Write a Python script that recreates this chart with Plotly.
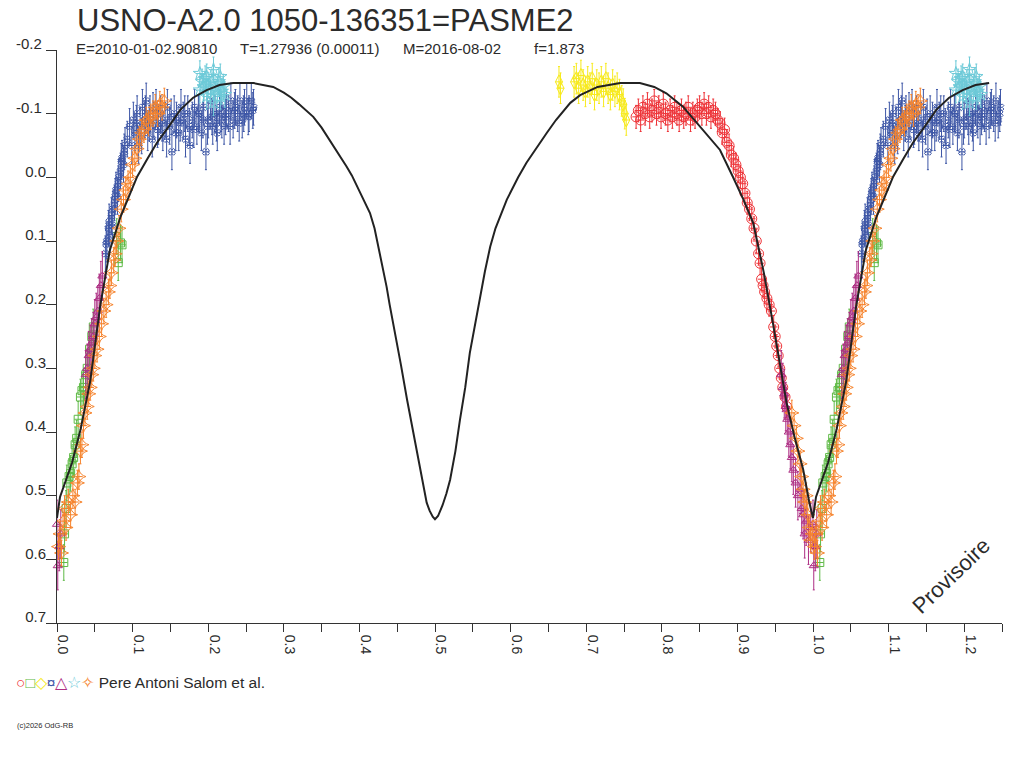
import plotly.graph_objects as go

# light curve of USNO-A2.0 1050-136351 (phase, magnitude difference)
model_phase = [0.000, 0.004, 0.012, 0.020, 0.031, 0.044, 0.057, 0.070, 0.084, 0.095, 0.106, 0.120,
               0.132, 0.148, 0.163, 0.180, 0.198, 0.215, 0.233, 0.260, 0.286, 0.300, 0.310, 0.320,
               0.330, 0.339, 0.350, 0.361, 0.370, 0.383, 0.390, 0.400, 0.405, 0.414, 0.420, 0.427,
               0.436, 0.440, 0.449, 0.455, 0.463, 0.470, 0.476, 0.483, 0.489, 0.493, 0.497, 0.500,
               0.504, 0.510, 0.515, 0.520, 0.527, 0.533, 0.540, 0.546, 0.553, 0.560, 0.566, 0.573,
               0.580, 0.595, 0.610, 0.621, 0.635, 0.648, 0.660, 0.679, 0.692, 0.715, 0.745, 0.771,
               0.790, 0.806, 0.828, 0.855, 0.877, 0.894, 0.908, 0.921, 0.935, 0.947, 0.956, 0.965,
               0.976, 0.987, 0.995, 1.000]
model_mag = [0.535, 0.502, 0.475, 0.448, 0.397, 0.320, 0.203, 0.114, 0.062, 0.030, -0.001, -0.030,
             -0.054, -0.080, -0.106, -0.125, -0.137, -0.145, -0.148, -0.148, -0.142, -0.133, -0.125, -0.115,
             -0.105, -0.095, -0.078, -0.058, -0.042, -0.017, -0.003, 0.022, 0.033, 0.056, 0.080, 0.119,
             0.172, 0.200, 0.255, 0.295, 0.349, 0.393, 0.433, 0.477, 0.511, 0.524, 0.533, 0.537,
             0.532, 0.515, 0.497, 0.475, 0.430, 0.381, 0.330, 0.276, 0.230, 0.188, 0.148, 0.109,
             0.080, 0.035, 0.000, -0.023, -0.048, -0.070, -0.090, -0.117, -0.129, -0.142, -0.148, -0.148,
             -0.142, -0.132, -0.111, -0.074, -0.043, -0.001, 0.035, 0.072, 0.150, 0.229, 0.290, 0.354,
             0.410, 0.459, 0.510, 0.535]

red_phase = [0.766, 0.769, 0.772, 0.775, 0.778, 0.781, 0.784, 0.787, 0.790, 0.793, 0.796, 0.799,
             0.802, 0.805, 0.808, 0.811, 0.814, 0.817, 0.820, 0.823, 0.826, 0.829, 0.832, 0.835,
             0.838, 0.841, 0.844, 0.847, 0.850, 0.853, 0.856, 0.859, 0.862, 0.865, 0.868, 0.871,
             0.874, 0.877, 0.880, 0.883, 0.886, 0.889, 0.892, 0.895, 0.898, 0.901, 0.904, 0.907,
             0.910, 0.913, 0.916, 0.919, 0.922, 0.925, 0.928, 0.930, 0.932, 0.934, 0.936, 0.939,
             0.942, 0.945, 0.948, 0.950, 0.952, 0.954, 0.956, 0.958, 0.960, 0.963, 0.965]
red_mag = [-0.095, -0.105, -0.090, -0.110, -0.100, -0.115, -0.095, -0.105, -0.120, -0.100, -0.110, -0.095,
           -0.115, -0.100, -0.090, -0.105, -0.095, -0.110, -0.100, -0.090, -0.105, -0.095, -0.100, -0.110,
           -0.090, -0.100, -0.095, -0.105, -0.110, -0.100, -0.115, -0.100, -0.110, -0.095, -0.105, -0.100,
           -0.090, -0.085, -0.070, -0.075, -0.055, -0.050, -0.035, -0.030, -0.020, -0.010, 0.000, 0.010,
           0.025, 0.040, 0.050, 0.065, 0.080, 0.100, 0.120, 0.135, 0.160, 0.170, 0.180, 0.190,
           0.200, 0.210, 0.235, 0.250, 0.265, 0.280, 0.300, 0.315, 0.330, 0.345, 0.360]

green_phase = [0.009, 0.010, 0.012, 0.013, 0.016, 0.018, 0.020, 0.022, 0.024, 0.026, 0.028, 0.031,
               0.033, 0.035, 0.038, 0.040, 0.043, 0.046, 0.048, 0.079, 0.081, 0.084, 0.086]
green_mag = [0.605, 0.560, 0.520, 0.480, 0.470, 0.465, 0.450, 0.440, 0.420, 0.410, 0.380, 0.345,
             0.335, 0.330, 0.310, 0.300, 0.270, 0.250, 0.235, 0.093, 0.134, 0.103, 0.106]

yellow_phase = [0.664, 0.666, 0.684, 0.687, 0.690, 0.693, 0.696, 0.699, 0.702, 0.705, 0.708, 0.711,
                0.714, 0.717, 0.720, 0.723, 0.726, 0.729, 0.732, 0.735, 0.738, 0.741, 0.744, 0.747,
                0.749, 0.751, 0.753]
yellow_mag = [-0.150, -0.140, -0.150, -0.155, -0.140, -0.160, -0.145, -0.135, -0.150, -0.140, -0.155, -0.130,
              -0.145, -0.140, -0.150, -0.135, -0.155, -0.140, -0.130, -0.145, -0.135, -0.140, -0.130, -0.120,
              -0.115, -0.100, -0.090]

blue_phase = [0.064, 0.065, 0.066, 0.068, 0.069, 0.070, 0.072, 0.073, 0.074, 0.076, 0.077, 0.078,
              0.080, 0.081, 0.082, 0.084, 0.085, 0.086, 0.088, 0.089, 0.090, 0.093, 0.096, 0.099,
              0.101, 0.103, 0.105, 0.106, 0.108, 0.110, 0.112, 0.113, 0.116, 0.117, 0.118, 0.120,
              0.122, 0.123, 0.126, 0.127, 0.128, 0.131, 0.133, 0.134, 0.137, 0.139, 0.140, 0.143,
              0.145, 0.146, 0.149, 0.151, 0.152, 0.155, 0.157, 0.158, 0.161, 0.163, 0.164, 0.167,
              0.169, 0.170, 0.173, 0.175, 0.176, 0.179, 0.181, 0.182, 0.185, 0.187, 0.188, 0.191,
              0.193, 0.194, 0.197, 0.199, 0.200, 0.203, 0.205, 0.206, 0.209, 0.211, 0.212, 0.215,
              0.217, 0.218, 0.221, 0.223, 0.224, 0.227, 0.229, 0.230, 0.233, 0.235, 0.236, 0.239,
              0.241, 0.242, 0.245, 0.247, 0.248, 0.251, 0.253, 0.254, 0.257, 0.259, 0.260]
blue_mag = [0.120, 0.105, 0.100, 0.080, 0.070, 0.090, 0.060, 0.075, 0.050, 0.040, 0.030, 0.020,
            0.030, 0.010, 0.000, -0.010, -0.025, -0.030, -0.020, -0.040, -0.050, -0.060, -0.080, -0.050,
            -0.090, -0.070, -0.085, -0.100, -0.050, -0.080, -0.065, -0.110, -0.090, -0.100, -0.120, -0.070,
            -0.085, -0.100, -0.060, -0.105, -0.090, -0.110, -0.075, -0.080, -0.100, -0.085, -0.070, -0.090,
            -0.060, -0.110, -0.080, -0.095, -0.040, -0.100, -0.070, -0.090, -0.070, -0.085, -0.110, -0.090,
            -0.100, -0.060, -0.100, -0.080, -0.050, -0.090, -0.075, -0.110, -0.080, -0.100, -0.100, -0.070,
            -0.090, -0.110, -0.040, -0.080, -0.090, -0.120, -0.095, -0.080, -0.100, -0.085, -0.070, -0.110,
            -0.100, -0.090, -0.080, -0.095, -0.110, -0.100, -0.080, -0.120, -0.090, -0.105, -0.110, -0.100,
            -0.085, -0.120, -0.090, -0.100, -0.110, -0.120, -0.095, -0.100, -0.120, -0.105, -0.110]

purple_phase = [0.958, 0.960, 0.962, 0.964, 0.966, 0.968, 0.970, 0.972, 0.974, 0.977, 0.980, 0.983,
                0.985, 0.987, 0.989, 0.991, 0.994, 0.997, 0.000, 0.001, 0.003, 0.005, 0.038, 0.040,
                0.042, 0.044, 0.046, 0.048, 0.050, 0.052, 0.054, 0.056, 0.058, 0.060]
purple_mag = [0.310, 0.330, 0.340, 0.360, 0.380, 0.400, 0.420, 0.440, 0.460, 0.480, 0.500, 0.490,
              0.520, 0.530, 0.560, 0.540, 0.570, 0.550, 0.545, 0.610, 0.580, 0.560, 0.310, 0.300,
              0.280, 0.270, 0.260, 0.250, 0.230, 0.220, 0.210, 0.190, 0.170, 0.155]

cyan_phase = [0.189, 0.189, 0.192, 0.194, 0.196, 0.198, 0.198, 0.200, 0.203, 0.205, 0.207, 0.207,
              0.209, 0.212, 0.214, 0.216, 0.216, 0.218, 0.220, 0.222]
cyan_mag = [-0.163, -0.137, -0.150, -0.142, -0.155, -0.158, -0.127, -0.145, -0.132, -0.150, -0.169, -0.117,
            -0.140, -0.137, -0.150, -0.158, -0.127, -0.135, -0.142, -0.130]

orange_phase = [0.972, 0.975, 0.978, 0.980, 0.983, 0.985, 0.987, 0.989, 0.991, 0.993, 0.995, 0.997,
                0.999, 0.002, 0.004, 0.006, 0.008, 0.010, 0.012, 0.015, 0.018, 0.021, 0.024, 0.027,
                0.029, 0.031, 0.033, 0.035, 0.037, 0.040, 0.042, 0.044, 0.046, 0.048, 0.050, 0.053,
                0.056, 0.059, 0.062, 0.065, 0.068, 0.070, 0.072, 0.075, 0.077, 0.079, 0.082, 0.085,
                0.088, 0.091, 0.094, 0.097, 0.100, 0.103, 0.106, 0.109, 0.112, 0.115, 0.118, 0.121,
                0.124, 0.127, 0.130, 0.133, 0.136, 0.139, 0.142]
orange_mag = [0.370, 0.390, 0.410, 0.430, 0.450, 0.470, 0.490, 0.510, 0.500, 0.530, 0.550, 0.570,
              0.560, 0.580, 0.560, 0.590, 0.540, 0.520, 0.550, 0.510, 0.530, 0.500, 0.510, 0.480,
              0.470, 0.430, 0.420, 0.390, 0.370, 0.360, 0.340, 0.330, 0.310, 0.300, 0.280, 0.270,
              0.250, 0.230, 0.210, 0.200, 0.180, 0.170, 0.150, 0.130, 0.120, 0.100, 0.080, 0.050,
              0.035, 0.020, 0.010, 0.000, -0.020, -0.030, -0.045, -0.060, -0.070, -0.075, -0.090, -0.085,
              -0.095, -0.100, -0.110, -0.100, -0.115, -0.110, -0.120]

y_ticks = [-0.2, -0.1, 0.0, 0.1, 0.2, 0.3, 0.4, 0.5, 0.6, 0.7]
y_labels = ["-0.2\u00a0", "-0.1\u00a0", "0.0", "0.1", "0.2", "0.3", "0.4", "0.5", "0.6", "0.7"]
x_ticks = [0.0, 0.1, 0.2, 0.3, 0.4, 0.5, 0.6, 0.7, 0.8, 0.9, 1.0, 1.1, 1.2]
x_labels = ["0.0", "0.1", "0.2", "0.3", "0.4", "0.5", "0.6", "0.7", "0.8", "0.9", "1.0", "1.1", "1.2"]

FONT = "Liberation Sans, Arial, sans-serif"
TXT = "#2b2b2b"

# page body margin is removed in post_script, so the figure fills the window
W, H = 1024, 768
ML, MR, MT, MB = 57, 22, 50, 145
PW, PH = W - ML - MR, H - MT - MB


def wrap(phase, mag):
    """Repeat the first quarter of the cycle after phase 1."""
    xs = list(phase) + [p + 1 for p in phase if p <= 0.25]
    ys = list(mag) + [m for p, m in zip(phase, mag) if p <= 0.25]
    return xs, ys


def page_to_paper(px, py):
    # annotation text starts ~1px right of its anchor
    return (px - 1 - ML) / PW, (H - MB - py) / PH


series = [
    # phase, mag, colour, symbol, size, error
    (red_phase, red_mag, "#ee3338", "circle-open", 10, 0.018),
    (green_phase, green_mag, "#5fba46", "square-open", 8, 0.028),
    (yellow_phase, yellow_mag, "#f7ea1c", "diamond-tall-open", 10, 0.024),
    (blue_phase, blue_mag, "#3d56a6", "x-open", 6, 0.028),
    (purple_phase, purple_mag, "#ad2e83", "triangle-up-open", 8, 0.038),
    (cyan_phase, cyan_mag, "#6dcad8", "star-open", 10, 0.02),
    (orange_phase, orange_mag, "#f6832c", "star-diamond-open", 10, 0.02),
]

fig = go.Figure()

for ph, mg, col, sym, size, err in series:
    xs, ys = wrap(ph, mg)
    fig.add_trace(go.Scatter(
        x=xs, y=ys, mode="markers", cliponaxis=False, showlegend=False,
        marker=dict(symbol=sym, size=size, color=col, line=dict(width=1, color=col)),
        error_y=dict(type="constant", value=err, color=col, thickness=1, width=1),
        error_x=dict(type="constant", value=0.005, color=col, thickness=1, width=0),
    ))

mx, my = wrap(model_phase, model_mag)
fig.add_trace(go.Scatter(x=mx, y=my, mode="lines", showlegend=False,
                         line=dict(color="#222222", width=2)))

fig.update_xaxes(
    range=[0, 1.25], showgrid=False, zeroline=False, showline=True, linecolor="#333", linewidth=1,
    tickmode="array", tickvals=x_ticks, ticktext=x_labels, ticks="outside", ticklen=8,
    tickcolor="#333", tickangle=90, ticklabelshift=6,
    minor=dict(ticks="outside", ticklen=8, dtick=0.05, tick0=0.05, tickcolor="#333", showgrid=False),
    tickfont=dict(family=FONT, size=14, color=TXT),
)
fig.update_yaxes(
    range=[0.7, -0.2], showgrid=False, zeroline=False, showline=True, linecolor="#333", linewidth=1,
    tickmode="array", tickvals=y_ticks, ticktext=y_labels, ticks="outside", ticklen=10,
    tickcolor="#333", ticklabelshift=6, ticklabelstandoff=-3,
    tickfont=dict(family=FONT, size=15, color=TXT),
)

# title: anchored by its top edge so the text box stays inside the page
tx, ty = page_to_paper(76, 0.5)
fig.add_annotation(text="USNO-A2.0 1050-136351=PASME2", xref="paper", yref="paper",
                   showarrow=False, x=tx, y=ty, xanchor="left", yanchor="top",
                   font=dict(family=FONT, color=TXT, size=31))

texts = [
    ("E=2010-01-02.90810", 75, 48.5, 15),
    ("T=1.27936 (0.00011)", 238.5, 48.5, 15),
    ("M=2016-08-02", 401.5, 48.5, 15),
    ("f=1.873", 533, 48.5, 15),
    ("<span style='color:#ee3338'>○</span><span style='color:#5fba46'>□</span>"
     "<span style='color:#f7ea1c'>◇</span><span style='color:#3d56a6'>¤</span>"
     "<span style='color:#ad2e83'>△</span><span style='color:#6dcad8'>☆</span>"
     "<span style='color:#f6832c'>✧</span> Pere Antoni Salom et al.", 15, 683, 15.5),
    ("(c)2026 OdG-RB", 16, 725, 7.5),
]
for text, px, py, size in texts:
    ax, ay = page_to_paper(px, py)
    fig.add_annotation(
        text=text, xref="paper", yref="paper", showarrow=False,
        x=ax, y=ay, xanchor="left", yanchor="middle",
        font=dict(family=FONT, color=TXT, size=size),
    )

fig.add_annotation(text="Provisoire", xref="x", yref="y", x=1.183, y=0.625, showarrow=False,
                   textangle=-44, font=dict(family=FONT, size=22, color=TXT))
fig.add_annotation(text=">", xref="x", yref="y", x=-0.006, y=0.51, showarrow=False,
                   font=dict(family=FONT, size=12, color=TXT))
fig.add_annotation(text="<", xref="x", yref="y", x=1.259, y=0.51, showarrow=False,
                   font=dict(family=FONT, size=12, color=TXT))

fig.update_layout(
    width=W, height=H,
    margin=dict(l=ML, r=MR, t=MT, b=MB),
    paper_bgcolor="white", plot_bgcolor="white",
    font=dict(family=FONT, color=TXT),
)

fig.write_html("out.html", config={"displayModeBar": False},
               post_script="document.body.style.margin='0';")
